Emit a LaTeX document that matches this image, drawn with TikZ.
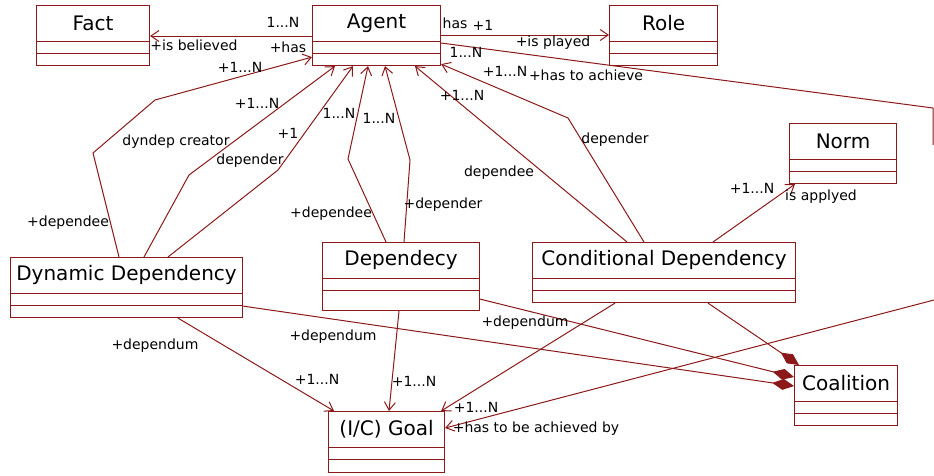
\documentclass[tikz,border=0pt]{standalone}
\usepackage{fontspec}
\setmainfont{DejaVu Sans}
\usetikzlibrary{arrows.meta,calc}
\definecolor{umlred}{RGB}{140,25,25}
\tikzset{
  cls/.style={draw=umlred, line width=1.1pt, fill=white, inner sep=0pt, anchor=north west},
  clsname/.style={font=\fontsize{20}{22}\selectfont, inner sep=0pt},
  lbl/.style={font=\fontsize{14}{16}\selectfont, inner sep=0pt},
  assoc/.style={draw=umlred, line width=1pt, -{Straight Barb[length=8pt,width=11pt]}},
  plain/.style={draw=umlred, line width=1pt},
  compo/.style={draw=umlred, line width=1pt, -{Diamond[length=22pt,width=11pt]}}
}
% class box: name, x, y, width, height, title
\newcommand{\umlclass}[6]{%
  \node[cls, minimum width=#4pt, minimum height=#5pt] (#1) at (#2,#3) {};
  \node[clsname] (#1-t) at ([yshift=-18pt]#1.north) {#6};
  \draw[umlred, line width=0.8pt] ([yshift=-36pt]#1.north west) -- ([yshift=-36pt]#1.north east);
  \draw[umlred, line width=0.8pt] ([yshift=-48pt]#1.north west) -- ([yshift=-48pt]#1.north east);
}
\begin{document}
\begin{tikzpicture}[x=1pt, y=-1pt]
  \useasboundingbox (0,0) rectangle (934,475);

  \umlclass{fact}{36}{5}{113}{60}{Fact}
  \umlclass{agent}{312}{5}{128}{60}{Agent}
  \umlclass{role}{609}{5}{108}{60}{Role}
  \umlclass{norm}{789}{123}{107}{60}{Norm}
  \umlclass{dd}{10}{257}{232}{60}{Dynamic Dependency}
  \umlclass{dep}{322}{242}{157}{68}{Dependecy}
  \umlclass{cd}{532}{242}{263}{60}{Conditional Dependency}
  \umlclass{goal}{328}{411}{116}{61}{(I/C) Goal}
  \umlclass{coal}{794}{365}{103}{60}{Coalition}

  % edge of the picture
  \coordinate (rimA) at (933,108);
  \coordinate (rimB) at (933,145);
  \coordinate (rimC) at (934,300);

  % agent associations
  \draw[assoc] ([yshift=-31pt]agent.north west) -- ([yshift=-31pt]fact.north east);
  \draw[assoc] ([yshift=-30pt]agent.north east) -- ([yshift=-30pt]role.north west);
  \draw[plain] ([yshift=-38pt]agent.north east) -- (rimA) -- (rimB);
  \draw[assoc] (rimC) -- ([yshift=-17pt]goal.north east);

  % dependers and dependees
  \draw[assoc] ([xshift=109pt]dd.north west) -- (93,153) -- (155,100) -- ([yshift=9pt]agent.south west);
  \draw[assoc] ([xshift=134pt]dd.north west) -- (189,175) -- ([xshift=23pt]agent.south west);
  \draw[assoc] ([xshift=158pt]dd.north west) -- (278,170) -- ([xshift=41pt]agent.south west);
  \draw[assoc] ([xshift=64pt]dep.north west) -- (348,159) -- ([xshift=56pt]agent.south west);
  \draw[assoc] ([xshift=82pt]dep.north west) -- (410,160) -- ([xshift=73pt]agent.south west);
  \draw[assoc] ([xshift=95pt]cd.north west) -- ([xshift=103pt]agent.south west);
  \draw[assoc] ([xshift=112pt]cd.north west) -- (568,118) -- ([yshift=2pt]agent.south east);
  \draw[assoc] ([xshift=181pt]cd.north west) -- ([xshift=6pt]norm.south west);

  % dependum
  \draw[assoc] ([xshift=168pt]dd.south west) -- ([xshift=6pt]goal.north west);
  \draw[assoc] ([xshift=77pt]dep.south west) -- ([xshift=61pt]goal.north west);
  \draw[assoc] ([xshift=83pt]cd.south west) -- ([xshift=-4pt]goal.north east);

  % coalition
  \draw[compo] ([yshift=12pt]dd.south east) -- ([yshift=-21pt]coal.north west);
  \draw[compo] ([yshift=12pt]dep.south east) -- ([yshift=-12pt]coal.north west);
  \draw[compo] ([xshift=176pt]cd.south west) -- ([xshift=5pt]coal.north west);

  % labels
  \node[lbl] (l1) at (283,22) {1...N};
  \node[lbl] (l2) at (288,47) {+has};
  \node[lbl] (l3) at (194,45) {+is believed};
  \node[lbl] (l4) at (455,23) {has};
  \node[lbl] (l5) at (483,25) {+1};
  \node[lbl] (l6) at (553,43) {+is played};
  \node[lbl] (l7) at (466,52) {1...N};
  \node[lbl] (l8) at (505,71) {+1...N};
  \node[lbl] (l9) at (586,75) {+has to achieve};
  \node[lbl] (l10) at (240,67) {+1...N};
  \node[lbl] (l11) at (257,103) {+1...N};
  \node[lbl] (l12) at (176,142) {dyndep creator};
  \node[lbl] (l13) at (250,161) {depender};
  \node[lbl] (l14) at (288,133) {+1};
  \node[lbl] (l15) at (68,223) {+dependee};
  \node[lbl] (l16) at (339,113) {1...N};
  \node[lbl] (l17) at (379,118) {1...N};
  \node[lbl] (l18) at (331,214) {+dependee};
  \node[lbl] (l19) at (443,205) {+depender};
  \node[lbl] (l20) at (462,95) {+1...N};
  \node[lbl] (l21) at (499,173) {dependee};
  \node[lbl] (l22) at (615,140) {depender};
  \node[lbl] (l23) at (752,188) {+1...N};
  \node[lbl] (l24) at (821,197) {is applyed};
  \node[lbl] (l25) at (155,346) {+dependum};
  \node[lbl] (l26) at (317,379) {+1...N};
  \node[lbl] (l27) at (333,337) {+dependum};
  \node[lbl] (l28) at (414,381) {+1...N};
  \node[lbl] (l29) at (525,323) {+dependum};
  \node[lbl] (l30) at (476,407) {+1...N};
  \node[lbl] (l31) at (536,429) {+has to be achieved by};
\end{tikzpicture}
\end{document}
